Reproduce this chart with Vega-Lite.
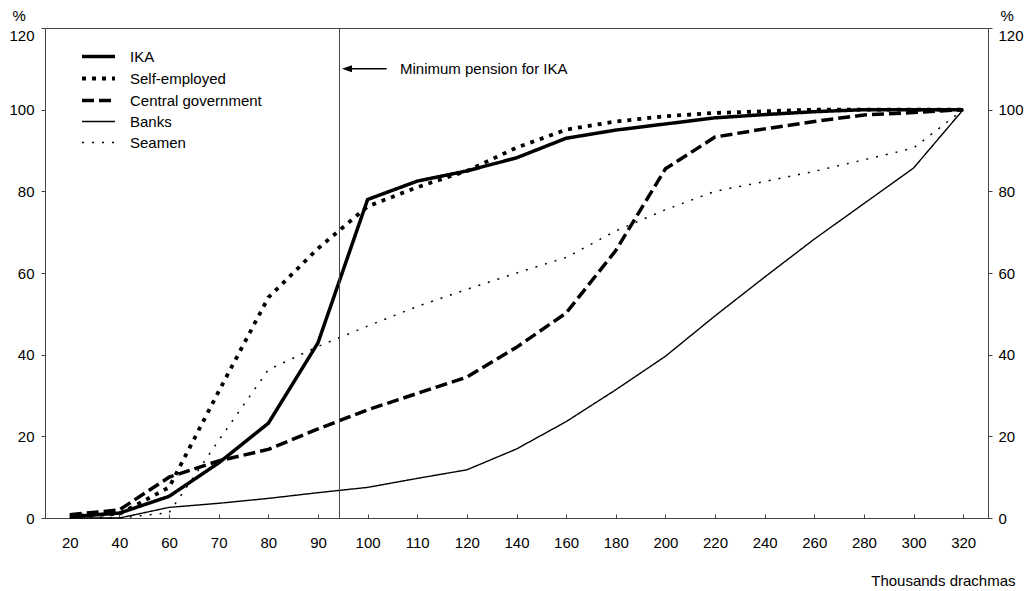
{
  "$schema": "https://vega.github.io/schema/vega-lite/v6.json",
  "width": 943,
  "height": 490,
  "autosize": "none",
  "padding": {"left": 45, "top": 28, "right": 41, "bottom": 73},
  "background": "white",
  "config": {
    "font": "Liberation Sans",
    "view": {"stroke": "#444", "strokeWidth": 1},
    "axis": {
      "grid": false,
      "labelFont": "Liberation Sans",
      "labelFontSize": 15,
      "labelColor": "#000",
      "titleFont": "Liberation Sans",
      "titleFontSize": 15,
      "titleFontWeight": "normal",
      "titleColor": "#000",
      "domainColor": "#444",
      "tickColor": "#444"
    },
    "legend": {
      "labelFont": "Liberation Sans",
      "labelFontSize": 15,
      "labelColor": "#000",
      "labelLimit": 400
    }
  },
  "datasets": {
    "series": [
      {"group": "IKA", "income": 20, "pct": 0.3},
      {"group": "IKA", "income": 40, "pct": 1.2},
      {"group": "IKA", "income": 60, "pct": 5.3},
      {"group": "IKA", "income": 70, "pct": 13.5},
      {"group": "IKA", "income": 80, "pct": 23.2},
      {"group": "IKA", "income": 90, "pct": 42.9},
      {"group": "IKA", "income": 100, "pct": 78},
      {"group": "IKA", "income": 110, "pct": 82.5},
      {"group": "IKA", "income": 120, "pct": 85},
      {"group": "IKA", "income": 140, "pct": 88.2},
      {"group": "IKA", "income": 160, "pct": 93},
      {"group": "IKA", "income": 180, "pct": 95},
      {"group": "IKA", "income": 200, "pct": 96.5},
      {"group": "IKA", "income": 220, "pct": 98},
      {"group": "IKA", "income": 240, "pct": 98.8},
      {"group": "IKA", "income": 260, "pct": 99.5},
      {"group": "IKA", "income": 280, "pct": 100},
      {"group": "IKA", "income": 300, "pct": 100},
      {"group": "IKA", "income": 320, "pct": 100},
      {"group": "Self-employed", "income": 20, "pct": 0.5},
      {"group": "Self-employed", "income": 40, "pct": 1},
      {"group": "Self-employed", "income": 60, "pct": 7.5},
      {"group": "Self-employed", "income": 70, "pct": 31},
      {"group": "Self-employed", "income": 80, "pct": 54},
      {"group": "Self-employed", "income": 90, "pct": 66},
      {"group": "Self-employed", "income": 100, "pct": 76.3},
      {"group": "Self-employed", "income": 110, "pct": 81},
      {"group": "Self-employed", "income": 120, "pct": 85},
      {"group": "Self-employed", "income": 140, "pct": 90.7},
      {"group": "Self-employed", "income": 160, "pct": 95.1},
      {"group": "Self-employed", "income": 180, "pct": 97.1},
      {"group": "Self-employed", "income": 200, "pct": 98.4},
      {"group": "Self-employed", "income": 220, "pct": 99.2},
      {"group": "Self-employed", "income": 240, "pct": 99.6},
      {"group": "Self-employed", "income": 260, "pct": 100},
      {"group": "Self-employed", "income": 280, "pct": 100},
      {"group": "Self-employed", "income": 300, "pct": 100},
      {"group": "Self-employed", "income": 320, "pct": 100},
      {"group": "Central government", "income": 20, "pct": 0.8},
      {"group": "Central government", "income": 40, "pct": 2},
      {"group": "Central government", "income": 60, "pct": 10},
      {"group": "Central government", "income": 70, "pct": 14},
      {"group": "Central government", "income": 80, "pct": 16.8},
      {"group": "Central government", "income": 90, "pct": 21.8},
      {"group": "Central government", "income": 100, "pct": 26.5},
      {"group": "Central government", "income": 110, "pct": 30.5},
      {"group": "Central government", "income": 120, "pct": 34.5},
      {"group": "Central government", "income": 140, "pct": 41.8},
      {"group": "Central government", "income": 160, "pct": 50.2},
      {"group": "Central government", "income": 180, "pct": 65.5},
      {"group": "Central government", "income": 200, "pct": 85.5},
      {"group": "Central government", "income": 220, "pct": 93.3},
      {"group": "Central government", "income": 240, "pct": 95.3},
      {"group": "Central government", "income": 260, "pct": 97.1},
      {"group": "Central government", "income": 280, "pct": 98.7},
      {"group": "Central government", "income": 300, "pct": 99.3},
      {"group": "Central government", "income": 320, "pct": 100},
      {"group": "Banks", "income": 20, "pct": 0},
      {"group": "Banks", "income": 40, "pct": 0},
      {"group": "Banks", "income": 60, "pct": 2.6},
      {"group": "Banks", "income": 70, "pct": 3.6},
      {"group": "Banks", "income": 80, "pct": 4.8},
      {"group": "Banks", "income": 90, "pct": 6.2},
      {"group": "Banks", "income": 100, "pct": 7.5},
      {"group": "Banks", "income": 110, "pct": 9.7},
      {"group": "Banks", "income": 120, "pct": 11.8},
      {"group": "Banks", "income": 140, "pct": 16.9},
      {"group": "Banks", "income": 160, "pct": 23.6},
      {"group": "Banks", "income": 180, "pct": 31.4},
      {"group": "Banks", "income": 200, "pct": 39.6},
      {"group": "Banks", "income": 220, "pct": 49.5},
      {"group": "Banks", "income": 240, "pct": 59},
      {"group": "Banks", "income": 260, "pct": 68.3},
      {"group": "Banks", "income": 280, "pct": 77},
      {"group": "Banks", "income": 300, "pct": 85.7},
      {"group": "Banks", "income": 320, "pct": 100},
      {"group": "Seamen", "income": 20, "pct": 0},
      {"group": "Seamen", "income": 40, "pct": 0},
      {"group": "Seamen", "income": 60, "pct": 1.3},
      {"group": "Seamen", "income": 70, "pct": 19},
      {"group": "Seamen", "income": 80, "pct": 36.3},
      {"group": "Seamen", "income": 90, "pct": 42},
      {"group": "Seamen", "income": 100, "pct": 47},
      {"group": "Seamen", "income": 110, "pct": 51.8},
      {"group": "Seamen", "income": 120, "pct": 56},
      {"group": "Seamen", "income": 140, "pct": 60},
      {"group": "Seamen", "income": 160, "pct": 63.8},
      {"group": "Seamen", "income": 180, "pct": 70.3},
      {"group": "Seamen", "income": 200, "pct": 75.5},
      {"group": "Seamen", "income": 220, "pct": 80},
      {"group": "Seamen", "income": 240, "pct": 82.4},
      {"group": "Seamen", "income": 260, "pct": 84.9},
      {"group": "Seamen", "income": 280, "pct": 87.7},
      {"group": "Seamen", "income": 300, "pct": 90.6},
      {"group": "Seamen", "income": 320, "pct": 100}
    ],
    "marker": [
      {"income": 90, "label": "Minimum pension for IKA", "pct": 110}
    ]
  },
  "layer": [
    {
      "data": {"name": "series"},
      "mark": {"type": "line", "color": "black", "strokeCap": "butt", "strokeJoin": "miter"},
      "encoding": {
        "x": {
          "field": "income",
          "type": "ordinal",
          "scale": {"type": "point", "padding": 0.5},
          "axis": {
            "title": "Thousands drachmas",
            "labelAngle": 0,
            "tickSize": -4,
            "labelPadding": 21,
            "titleAlign": "right",
            "titleAnchor": null,
            "titleBaseline": "alphabetic",
            "titleX": 970,
            "titleY": 67
          }
        },
        "y": {
          "field": "pct",
          "type": "quantitative",
          "scale": {"domain": [0, 120], "nice": false},
          "axis": {
            "title": "%",
            "orient": "left",
            "values": [0, 20, 40, 60, 80, 100, 120],
            "tickSize": 4,
            "labelPadding": 7,
            "labelOffset": {"condition": {"test": "datum.value === 120", "value": 7}, "value": 0},
            "titleAngle": 0,
            "titleAlign": "left",
            "titleBaseline": "alphabetic",
            "titleAnchor": null,
            "titleX": -33,
            "titleY": -8
          }
        },
        "strokeDash": {
          "field": "group",
          "type": "nominal",
          "scale": {
            "domain": ["IKA", "Self-employed", "Central government", "Banks", "Seamen"],
            "range": [[1, 0], [4, 6], [12, 5], [1, 0], [2, 8]]
          },
          "legend": {
            "title": null,
            "orient": "none",
            "legendX": 45,
            "legendY": 20,
            "padding": 0,
            "symbolType": "M-2.5,0H2.5",
            "symbolSize": 174,
            "symbolStrokeColor": "black",
            "labelOffset": 23,
            "rowPadding": 5
          }
        },
        "strokeWidth": {
          "field": "group",
          "type": "nominal",
          "scale": {
            "type": "ordinal",
            "domain": ["IKA", "Self-employed", "Central government", "Banks", "Seamen"],
            "range": [3.5, 3.8, 3.5, 1.4, 1.5]
          },
          "legend": {
            "title": null,
            "orient": "none",
            "legendX": 45,
            "legendY": 20,
            "padding": 0,
            "symbolType": "M-2.5,0H2.5",
            "symbolSize": 174,
            "symbolStrokeColor": "black",
            "labelOffset": 23,
            "rowPadding": 5
          }
        }
      }
    },
    {
      "data": {"name": "marker"},
      "mark": {"type": "rule", "color": "#444", "strokeWidth": 1, "xOffset": 21.5, "x2Offset": 21.5},
      "encoding": {
        "x": {"field": "income", "type": "ordinal"},
        "y": {
          "datum": 0,
          "type": "quantitative",
          "axis": {
            "title": "%",
            "orient": "right",
            "values": [0, 20, 40, 60, 80, 100, 120],
            "tickSize": 4,
            "labelPadding": 6,
            "labelOffset": {"condition": {"test": "datum.value === 120", "value": 7}, "value": 0},
            "titleAngle": 0,
            "titleAlign": "left",
            "titleBaseline": "alphabetic",
            "titleAnchor": null,
            "titleX": 12,
            "titleY": -8
          }
        },
        "y2": {"datum": 120}
      }
    },
    {
      "data": {"name": "marker"},
      "mark": {"type": "rule", "color": "black", "strokeWidth": 1.5, "xOffset": 29, "x2Offset": 19},
      "encoding": {
        "x": {"field": "income", "type": "ordinal"},
        "x2": {"datum": 100},
        "y": {"field": "pct", "type": "quantitative", "axis": null}
      }
    },
    {
      "data": {"name": "marker"},
      "mark": {"type": "point", "shape": "M-1,0L1,-0.7L1,0.7Z", "size": 100, "filled": true, "color": "black", "opacity": 1, "xOffset": 29},
      "encoding": {
        "x": {"field": "income", "type": "ordinal"},
        "y": {"field": "pct", "type": "quantitative", "axis": null}
      }
    },
    {
      "data": {"name": "marker"},
      "mark": {"type": "text", "align": "left", "baseline": "middle", "fontSize": 15, "font": "Liberation Sans", "color": "black", "dx": 82},
      "encoding": {
        "x": {"field": "income", "type": "ordinal"},
        "y": {"field": "pct", "type": "quantitative", "axis": null},
        "text": {"field": "label"}
      }
    }
  ],
  "resolve": {"axis": {"y": "independent"}}
}
